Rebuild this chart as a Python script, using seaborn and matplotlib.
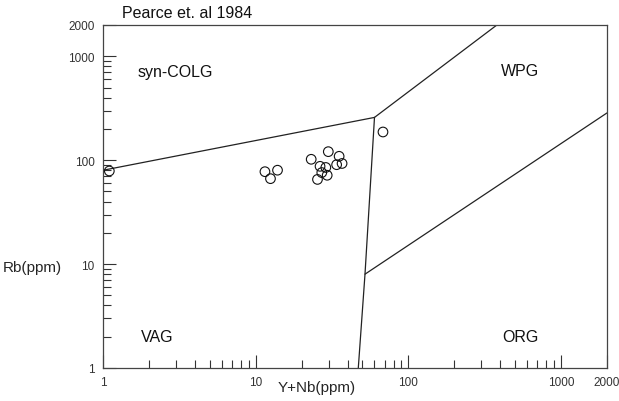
import matplotlib
matplotlib.use("Agg")
import matplotlib.pyplot as plt
import seaborn as sns
import pandas as pd
from matplotlib.ticker import FixedLocator, NullFormatter, LogLocator

# sample data (Y+Nb, Rb) in ppm
ynb = [1.1, 11.5, 12.5, 13.9, 23.1, 29.9, 26.4, 28.8, 35.2, 33.9, 36.8, 27.1, 29.4, 25.4, 68.2]
rb = [78.7, 77.5, 66.4, 80.1, 102, 120.8, 87.3, 85.1, 109, 90.5, 93, 76, 71.6, 65.3, 186.8]

# field boundaries (x, y) vertices
line_vag_colg_x = [1, 60]
line_vag_colg_y = [80, 258]
line_wpg_x = [60, 380]
line_wpg_y = [258, 2000]
line_vert_x = [60, 52, 47]
line_vert_y = [258, 8, 1]
line_org_x = [52, 2000]
line_org_y = [8, 285]

field_labels = ["syn-COLG", "WPG", "VAG", "ORG"]
field_label_x = [2.96, 538, 2.26, 546]
field_label_y = [706, 722, 2.03, 1.99]

x_ticks = [1, 10, 100, 1000, 2000]
y_ticks = [1, 10, 100, 1000, 2000]
tick_labels = ["1", "10", "100", "1000", "2000"]

sns.set_style("white")
fam = ["Liberation Sans", "DejaVu Sans"]
plt.rcParams["font.family"] = fam

fig = plt.figure(figsize=(6.19, 4.02), dpi=100)
ax = fig.add_axes([103 / 619, 1 - 369 / 402, (607 - 103) / 619, (369 - 26) / 402])

for lx, ly in [(line_vag_colg_x, line_vag_colg_y), (line_wpg_x, line_wpg_y),
               (line_vert_x, line_vert_y), (line_org_x, line_org_y)]:
    sns.lineplot(x=lx, y=ly, sort=False, estimator=None, color="#222222",
                 linewidth=0.9, ax=ax)

df = pd.DataFrame({"ynb": ynb, "rb": rb})
sns.scatterplot(data=df, x="ynb", y="rb", ax=ax, s=48, facecolor="none",
                edgecolor="#111111", linewidth=0.8, zorder=5, clip_on=False)

ax.set_xscale("log")
ax.set_yscale("log")
ax.set_xlim(1, 2000)
ax.set_ylim(1, 2000)

ax.xaxis.set_major_locator(FixedLocator(x_ticks))
ax.yaxis.set_major_locator(FixedLocator(y_ticks))
ax.set_xticklabels(tick_labels)
ax.set_yticklabels(tick_labels)
ax.xaxis.set_minor_locator(LogLocator(base=10, subs=range(2, 10), numticks=20))
ax.yaxis.set_minor_locator(LogLocator(base=10, subs=range(2, 10), numticks=20))
ax.xaxis.set_minor_formatter(NullFormatter())
ax.yaxis.set_minor_formatter(NullFormatter())

ax.tick_params(which="both", direction="in", top=False, right=False,
               bottom=True, left=True, color="#333333", width=0.8)
ax.tick_params(which="major", length=9.5, labelsize=8.5, labelcolor="#333333", pad=6)
ax.tick_params(which="minor", length=5.5)

for sp in ax.spines.values():
    sp.set_visible(True)
    sp.set_color("#444444")
    sp.set_linewidth(0.9)

ax.set_xlabel("Y+Nb(ppm)", fontsize=11)
ax.xaxis.set_label_coords((317 - 103) / 504, -(388 - 369) / 343)
ax.xaxis.label.set_va("center")
ax.set_ylabel("Rb(ppm)", fontsize=11, rotation=0)
ax.yaxis.set_label_coords(-(103 - 32) / 504, (369 - 268) / 343)
ax.yaxis.label.set_va("center")
ax.yaxis.label.set_ha("center")

for t, x, y in zip(field_labels, field_label_x, field_label_y):
    ax.text(x, y, t, fontsize=11.5, ha="center", va="center", color="#111111")

fig.text(122 / 619, 1 - 13 / 402, "Pearce et. al 1984", fontsize=11.5,
         ha="left", va="center", color="#111111")

fig.savefig("out.png", dpi=100)
